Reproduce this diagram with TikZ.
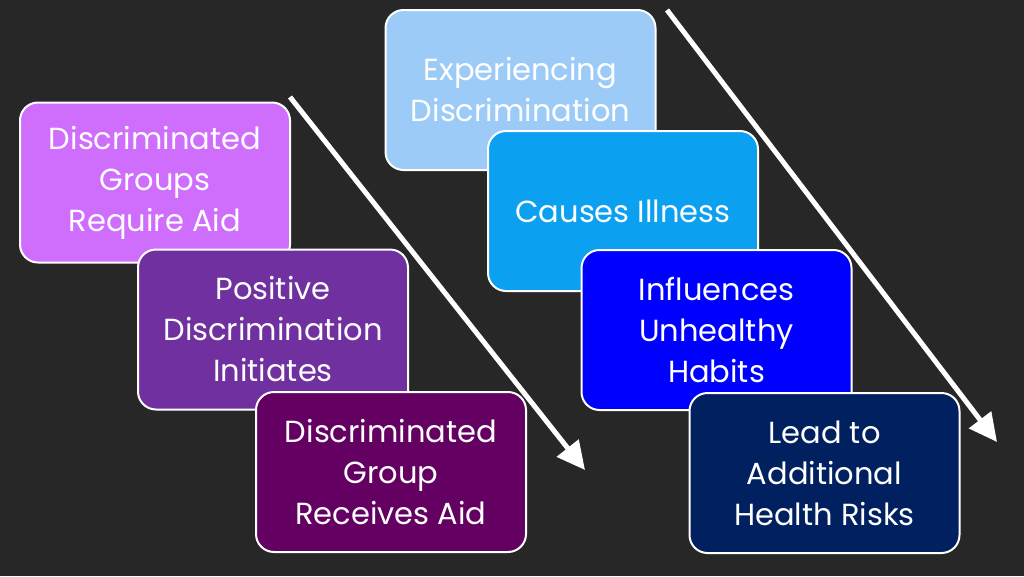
\documentclass[tikz,border=0pt]{standalone}
\usepackage{fontspec}
\setmainfont{Poppins}
\usetikzlibrary{arrows.meta}
\definecolor{bgc}{HTML}{272727}
\definecolor{c1}{HTML}{CF6DFC}
\definecolor{c2}{HTML}{7030A0}
\definecolor{c3}{HTML}{640062}
\definecolor{c4}{HTML}{9DCBF8}
\definecolor{c5}{HTML}{0BA0F0}
\definecolor{c6}{HTML}{0000FF}
\definecolor{c7}{HTML}{002060}
\tikzset{
  card/.style={draw=white, line width=2pt, rounded corners=18pt, inner sep=2pt,
    minimum width=270pt, minimum height=160pt, align=center, text=white,
    font=\fontsize{30.5}{41}\selectfont},
  flow/.style={draw=white, line width=5pt, -{Triangle[length=28pt,width=27pt]}}
}
\begin{document}
\begin{tikzpicture}[x=1pt,y=-1pt]
\useasboundingbox (0,0) rectangle (1024,576);
\fill[bgc] (0,0) rectangle (1024,576);
\node[card, fill=c1] (b1) at (155,182.5) {Discriminated\\Groups\\Require Aid};
\node[card, fill=c2] (b2) at (273,329.5) {Positive\\Discrimination\\Initiates};
\node[card, fill=c3] (b3) at (391,472) {Discriminated\\Group\\Receives Aid};
\node[card, fill=c4] (b4) at (520.5,90) {Experiencing\\Discrimination};
\node[card, fill=c5] (b5) at (623,211) {Causes Illness};
\node[card, fill=c6] (b6) at (716.5,330) {Influences\\Unhealthy\\Habits};
\node[card, fill=c7] (b7) at (824.5,473) {Lead to\\Additional\\Health Risks};
\coordinate (a1s) at (290,97);
\coordinate (a1e) at (585,470);
\coordinate (a2s) at (667,10);
\coordinate (a2e) at (997,442);
\draw[flow] (a1s) -- (a1e);
\draw[flow] (a2s) -- (a2e);
\end{tikzpicture}
\end{document}
